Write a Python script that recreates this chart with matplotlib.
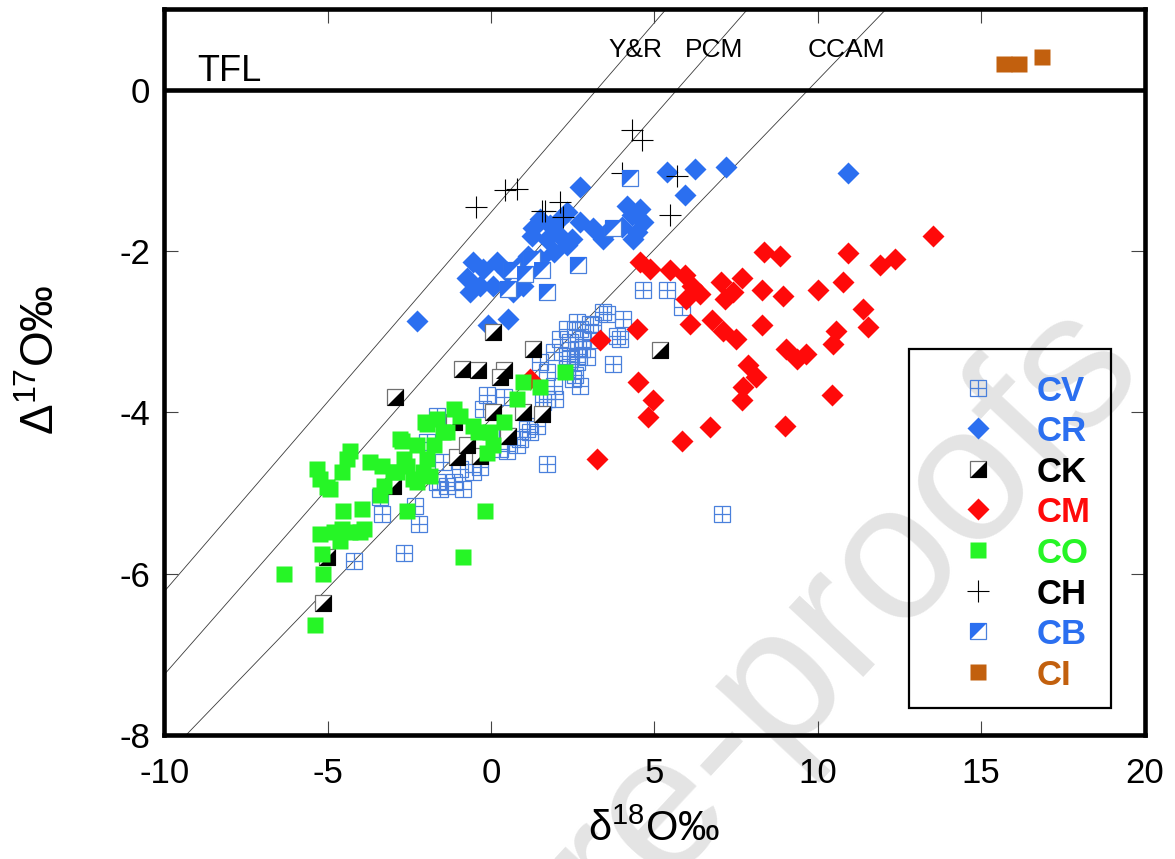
import matplotlib
matplotlib.use("Agg")
import matplotlib.pyplot as plt

plt.rcParams['font.family'] = ['Liberation Sans', 'DejaVu Sans']
plt.rcParams['mathtext.fontset'] = 'custom'
plt.rcParams['mathtext.rm'] = 'Liberation Sans'
plt.rcParams['axes.unicode_minus'] = False

# --- data (delta18O, Delta17O in permil) ---
CV_x = [-4.21, -2.68, -2.22, -2.32, -3.34, -3.39, 1.70, -1.66, -1.35, -1.15,
        -0.85, -0.54, -0.34, 0.48, 0.89, 1.19, 1.40, -1.97, -1.66, -0.13,
        0.38, -0.24, 1.60, 1.91, 2.31, 2.62, 2.52, 2.82, 3.03, 3.43,
        4.05, 3.84, 3.74, 3.94, 4.66, 5.37, 5.83, 3.54, 2.72, 3.13,
        2.67, 2.72, 2.42, 7.06, 2.62, 2.31, 2.42, 3.03, 2.77, 2.62,
        2.93, 2.57, 2.31, 2.11, 1.91, 1.50, 1.70, 1.96, 1.70, -1.46,
        -1.56, -0.95, 0.28, 0.48, 1.09, 0.79]
CV_y = [-5.84, -5.74, -5.38, -5.16, -5.26, -5.05, -4.64, -4.87, -4.91, -4.87,
        -4.95, -4.74, -4.68, -4.48, -4.33, -4.25, -4.17, -4.37, -4.04, -3.79,
        -3.81, -3.96, -3.87, -3.67, -3.46, -3.30, -3.59, -3.09, -2.90, -2.76,
        -2.84, -3.05, -3.40, -3.09, -2.49, -2.49, -2.70, -2.78, -2.97, -2.92,
        -3.21, -3.67, -3.34, -5.26, -2.88, -2.97, -3.13, -3.11, -3.21, -3.38,
        -3.32, -3.54, -3.30, -3.09, -3.25, -3.38, -3.50, -3.83, -3.83, -4.62,
        -4.95, -4.70, -4.45, -4.29, -4.21, -4.41]

CR_x = [2.72, 5.37, 6.24, 7.19, 5.93, 4.56, 4.30, 4.66, 4.46, 4.35,
        4.00, 3.54, 3.13, 2.72, 2.31, 2.11, 1.80, 1.50, 1.29, 1.24,
        1.70, 2.11, 2.31, 1.91, 1.50, 1.14, 0.89, 0.48, 0.17, -0.24,
        -0.54, -0.74, -0.34, -0.64, 0.07, 0.68, 0.99, 0.53, -0.08, -2.27,
        10.92, 3.43, 2.47, 4.15]
CR_y = [-1.21, -1.02, -0.98, -0.96, -1.31, -1.48, -1.56, -1.64, -1.77, -1.85,
        -1.70, -1.77, -1.72, -1.64, -1.52, -1.60, -1.68, -1.60, -1.72, -1.81,
        -1.85, -1.81, -1.93, -2.01, -2.10, -2.06, -2.18, -2.26, -2.14, -2.22,
        -2.14, -2.34, -2.43, -2.51, -2.43, -2.51, -2.43, -2.84, -2.92, -2.87,
        -1.04, -1.85, -1.85, -1.44]

CK_x = [0.07, 1.29, -0.90, -0.39, 0.38, 0.28, -2.94, 1.55, 0.99, 0.53,
        -1.05, -0.34, -0.74, 0.07, -5.02, -5.13, -2.99, 5.17, -1.15]
CK_y = [-3.01, -3.21, -3.46, -3.48, -3.48, -3.56, -3.81, -4.02, -4.00, -4.29,
        -4.56, -4.54, -4.41, -4.00, -5.80, -6.36, -4.91, -3.23, -4.12]

CM_x = [13.53, 8.35, 8.84, 10.93, 11.90, 12.35, 10.77, 9.99, 8.28, 8.92,
        4.56, 4.86, 5.47, 5.93, 6.14, 6.39, 5.98, 7.05, 7.67, 7.41,
        7.16, 11.39, 11.54, 10.57, 10.47, 8.28, 4.46, 6.09, 6.75, 7.10,
        7.51, 3.33, 9.04, 9.35, 9.65, 7.87, 8.12, 7.71, 7.67, 10.42,
        4.50, 4.96, 4.81, 6.70, 8.99, 5.83, 3.23, 1.19]
CM_y = [-1.81, -2.01, -2.06, -2.03, -2.18, -2.10, -2.39, -2.49, -2.48, -2.56,
        -2.14, -2.22, -2.24, -2.30, -2.43, -2.53, -2.59, -2.39, -2.34, -2.51,
        -2.59, -2.72, -2.94, -2.99, -3.15, -2.92, -2.97, -2.90, -2.86, -2.99,
        -3.09, -3.11, -3.21, -3.34, -3.28, -3.42, -3.56, -3.69, -3.85, -3.79,
        -3.63, -3.85, -4.06, -4.18, -4.17, -4.35, -4.58, -3.59]

CO_x = [-6.35, -5.38, -5.13, -5.18, -5.23, -4.82, -4.57, -4.31, -4.01, -3.90,
        -4.62, -4.52, -3.95, -2.58, -0.18, -0.85, -5.33, -5.23, -4.92, -4.57,
        -4.31, -4.41, -3.70, -3.34, -3.29, -3.39, -2.99, -2.73, -2.58, -2.38,
        -2.07, -1.97, -1.97, -1.66, -1.15, -0.95, -1.35, -1.76, -0.54, -0.03,
        0.07, -0.13, 0.38, 0.79, 0.99, 1.50, 2.26, -0.39, -2.02, -2.27,
        -2.78, -2.68, -1.87, -2.27, -2.88, -1.46, -5.02]
CO_y = [-6.00, -6.64, -6.00, -5.76, -5.51, -5.49, -5.45, -5.49, -5.49, -5.45,
        -5.59, -5.22, -5.20, -5.22, -5.22, -5.80, -4.70, -4.83, -4.95, -4.74,
        -4.48, -4.58, -4.62, -4.66, -4.91, -5.03, -4.74, -4.35, -4.66, -4.83,
        -4.74, -4.58, -4.14, -4.08, -3.96, -4.04, -4.25, -4.41, -4.17, -4.25,
        -4.41, -4.50, -4.12, -3.83, -3.63, -3.69, -3.50, -4.25, -4.12, -4.41,
        -4.33, -4.58, -4.79, -4.87, -4.74, -4.25, -4.93]

CH_x = [4.30, 4.61, 4.00, 5.70, 5.47, -0.46, 0.43, 0.79, 1.55, 2.11, 2.21, 1.65]
CH_y = [-0.50, -0.63, -1.04, -1.07, -1.56, -1.46, -1.25, -1.23, -1.50, -1.39, -1.58, -1.50]

CB_x = [4.25, 3.74, 2.67, 1.70, 1.55, 1.24, 1.04, 0.63, 0.53]
CB_y = [-1.10, -1.72, -2.18, -2.51, -2.24, -2.10, -2.28, -2.24, -2.47]

CI_x = [15.70, 16.15, 16.85]
CI_y = [0.32, 0.32, 0.40]

# fractionation lines: Delta17O = slope * delta18O + intercept
LINE_NAMES = ["Y&R", "PCM", "CCAM"]
LINE_SLOPE = [0.47, 0.462, 0.42]
LINE_ICEPT = [-1.52, -2.63, -4.08]
LINE_LABEL_X = [4.43, 6.83, 10.86]

LEGEND = ["CV", "CR", "CK", "CM", "CO", "CH", "CB", "CI"]

# --- styling ---
BLUE = "#2b6ff0"
CVBLUE = "#4a80dc"
RED = "#ff0a0a"
GREEN = "#26f526"
BROWN = "#c2600e"
SQ = 12.2      # square marker size (pt)
DM = 10.7      # diamond marker size (pt)
TRI_LR = [(-1, -1), (1, -1), (1, 1), (-1, -1)]
TRI_UL = [(-1, -1), (-1, 1), (1, 1), (-1, -1)]


def draw_cv(ax, x, y, z, **kw):
    ax.plot(x, y, ls="none", marker="s", ms=SQ, mfc="none", mec=CVBLUE, mew=0.9, zorder=z, **kw)
    ax.plot(x, y, ls="none", marker="+", ms=SQ, mec=CVBLUE, mew=0.9, zorder=z, **kw)


def draw_half(ax, x, y, z, fill, edge, tri, **kw):
    ax.plot(x, y, ls="none", marker="s", ms=SQ, mfc="white", mec=edge, mew=0.9, zorder=z, **kw)
    ax.plot(x, y, ls="none", marker=tri, ms=SQ, mfc=fill, mec="none", zorder=z + 0.01, **kw)


def draw_series(ax, name, x, y, z, **kw):
    if name == "CV":
        draw_cv(ax, x, y, z, **kw)
    elif name == "CR":
        ax.plot(x, y, ls="none", marker="D", ms=DM, mfc=BLUE, mec="none", zorder=z, **kw)
    elif name == "CK":
        draw_half(ax, x, y, z, "black", "#707070", TRI_LR, **kw)
    elif name == "CM":
        ax.plot(x, y, ls="none", marker="D", ms=DM, mfc=RED, mec="none", zorder=z, **kw)
    elif name == "CO":
        ax.plot(x, y, ls="none", marker="s", ms=SQ, mfc=GREEN, mec="none", zorder=z, **kw)
    elif name == "CH":
        ax.plot(x, y, ls="none", marker="+", ms=15.8, mec="black", mew=0.8, zorder=z, **kw)
    elif name == "CB":
        draw_half(ax, x, y, z, BLUE, CVBLUE, TRI_UL, **kw)
    elif name == "CI":
        ax.plot(x, y, ls="none", marker="s", ms=SQ, mfc=BROWN, mec="none", zorder=z, **kw)


TEXT_COL = {"CV": BLUE, "CR": BLUE, "CK": "black", "CM": RED, "CO": GREEN,
            "CH": "black", "CB": BLUE, "CI": BROWN}

fig = plt.figure(figsize=(11.75, 8.59), dpi=100)
fig.patch.set_facecolor("white")
ax = fig.add_axes([0.1399, 0.1444, 0.8342, 0.8452])
ax.set_facecolor("none")

# watermark behind everything
fig.text(0.9767, 0.567, "Journal Pre-proofs", rotation=47, rotation_mode="anchor",
         ha="right", va="baseline", fontsize=139, color="#e4e4e4", zorder=-1)

ax.set_xlim(-10, 20)
ax.set_ylim(-8, 1)

# reference lines
for name, m, b, lx in zip(LINE_NAMES, LINE_SLOPE, LINE_ICEPT, LINE_LABEL_X):
    ax.plot([-10, 20], [m * -10 + b, m * 20 + b], color="#3a3a3a", lw=0.6, zorder=1)
    ax.text(lx, 0.41, name, ha="center", va="baseline", fontsize=19, zorder=6)

ax.axhline(0, color="black", lw=3.3, zorder=2)
ax.text(-8.99, 0.11, "TFL", ha="left", va="baseline", fontsize=26, zorder=6)

series = [("CV", CV_x, CV_y), ("CR", CR_x, CR_y), ("CK", CK_x, CK_y),
          ("CM", CM_x, CM_y), ("CO", CO_x, CO_y), ("CH", CH_x, CH_y),
          ("CB", CB_x, CB_y), ("CI", CI_x, CI_y)]
for i, (name, x, y) in enumerate(series):
    draw_series(ax, name, x, y, 3 + i * 0.1)

# hand-built legend box
ax.add_patch(plt.Rectangle((0.7597, 0.0372), 0.206, 0.4945, transform=ax.transAxes,
                           fill=False, ec="black", lw=1.6, zorder=8))
for i, name in enumerate(LEGEND):
    ly = 0.4784 - i * 0.0559
    draw_series(ax, name, [0.830], [ly], 9, transform=ax.transAxes, clip_on=False)
    ax.text(0.890, ly, name, transform=ax.transAxes, ha="left", va="center_baseline",
            fontsize=25, fontweight="bold", color=TEXT_COL[name], zorder=9)

ax.set_xticks([-10, -5, 0, 5, 10, 15, 20])
ax.set_yticks([-8, -6, -4, -2, 0])
ax.tick_params(direction="in", length=10, width=0.8, color="#444444",
               top=True, right=True, labelsize=25)
ax.tick_params(axis="x", pad=16)
ax.tick_params(axis="y", pad=10)
for s in ax.spines.values():
    s.set_linewidth(3.3)
    s.set_zorder(10)

ax.set_xlabel("δ$^{18}$O‰", fontsize=30)
ax.set_ylabel("Δ$^{17}$O‰", fontsize=33)
ax.xaxis.set_label_coords(0.5, -0.103)
ax.yaxis.set_label_coords(-0.1024, 0.5165)

fig.savefig("out.png", dpi=100, facecolor="white")
